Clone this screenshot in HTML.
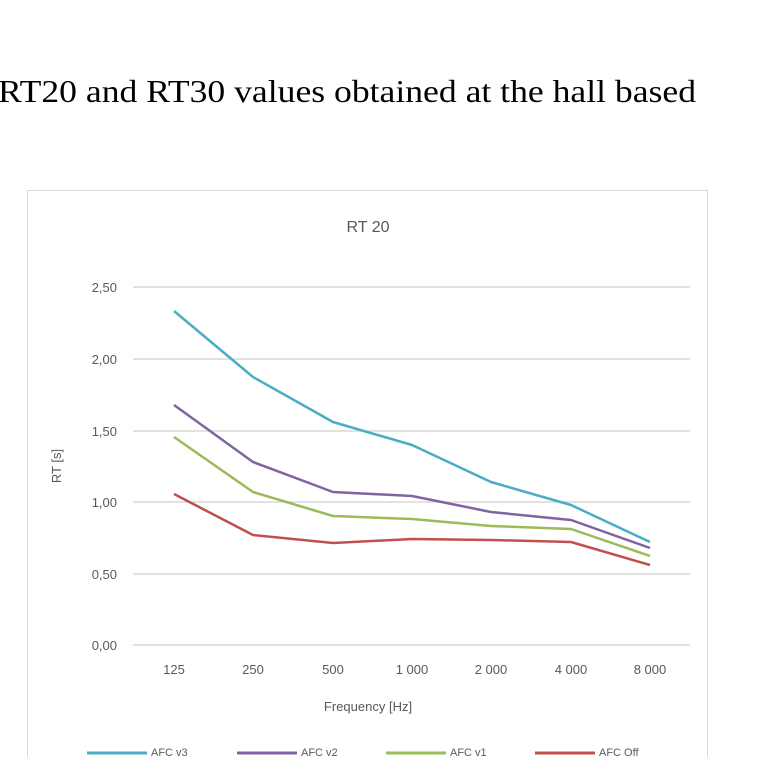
<!DOCTYPE html>
<html><head><meta charset="utf-8"><style>body{margin:0;background:#fff}svg{display:block}</style></head><body>
<svg width="760" height="757" viewBox="0 0 760 757" xmlns="http://www.w3.org/2000/svg">
<text x="-2" y="102" font-family="Liberation Serif, serif" font-size="32" fill="#000" textLength="698" lengthAdjust="spacingAndGlyphs">RT20 and RT30 values obtained at the hall based</text>
<rect x="27.5" y="190.5" width="680" height="580" fill="#fff" stroke="#d9d9d9"/>
<text x="368" y="232" text-anchor="middle" font-family="Liberation Sans, sans-serif" font-size="16" fill="#595959">RT 20</text>
<g stroke="#d9d9d9" stroke-width="1.5">
<line x1="133" x2="690" y1="287" y2="287"/><line x1="133" x2="690" y1="359" y2="359"/><line x1="133" x2="690" y1="431" y2="431"/><line x1="133" x2="690" y1="502" y2="502"/><line x1="133" x2="690" y1="574" y2="574"/><line x1="133" x2="690" y1="645" y2="645"/>
</g>
<g font-family="Liberation Sans, sans-serif" font-size="13" fill="#595959" text-anchor="end">
<text x="117" y="292">2,50</text><text x="117" y="364">2,00</text><text x="117" y="436">1,50</text><text x="117" y="507">1,00</text><text x="117" y="579">0,50</text><text x="117" y="650">0,00</text>
</g>
<g font-family="Liberation Sans, sans-serif" font-size="13" fill="#595959" text-anchor="middle">
<text x="174" y="674">125</text><text x="253" y="674">250</text><text x="333" y="674">500</text><text x="412" y="674">1 000</text><text x="491" y="674">2 000</text><text x="571" y="674">4 000</text><text x="650" y="674">8 000</text>
<text x="368" y="711">Frequency [Hz]</text>
<text transform="translate(61,466) rotate(-90)">RT [s]</text>
</g>
<g fill="none" stroke-width="2.5" stroke-linejoin="round">
<polyline stroke="#4bacc6" points="174,311 253,377 333,422 412,445 491,482 571,505 650,542"/>
<polyline stroke="#8064a2" points="174,405 253,462 333,492 412,496 491,512 571,520 650,548"/>
<polyline stroke="#9bbb59" points="174,437 253,492 333,516 412,519 491,526 571,529 650,556"/>
<polyline stroke="#c0504d" points="174,494 253,535 333,543 412,539 491,540 571,542 650,565"/>
</g>
<g stroke-width="3">
<line x1="87" x2="147" y1="753" y2="753" stroke="#4bacc6"/>
<line x1="237" x2="297" y1="753" y2="753" stroke="#8064a2"/>
<line x1="386" x2="446" y1="753" y2="753" stroke="#9bbb59"/>
<line x1="535" x2="595" y1="753" y2="753" stroke="#c0504d"/>
</g>
<g font-family="Liberation Sans, sans-serif" font-size="11" fill="#595959">
<text x="151" y="756">AFC v3</text><text x="301" y="756">AFC v2</text><text x="450" y="756">AFC v1</text><text x="599" y="756">AFC Off</text>
</g>
</svg>
</body></html>
